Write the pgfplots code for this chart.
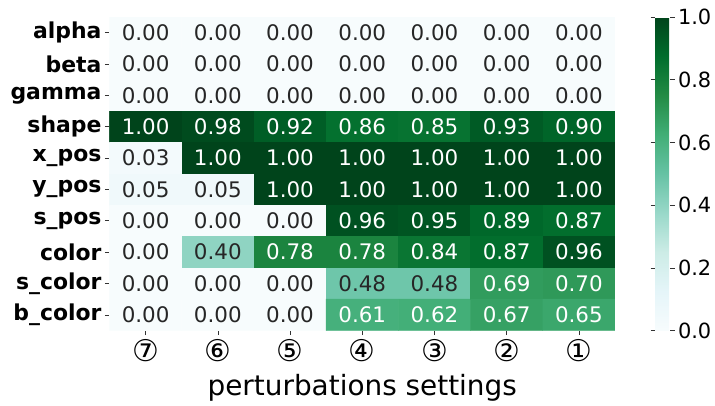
\documentclass[border=0pt]{standalone}
\usepackage{fontspec}
\setmainfont{DejaVu Sans}
\usepackage{pgfplots}
\pgfplotsset{compat=1.18}
\definecolor{textdark}{HTML}{262626}

\pgfplotstableread{
x y v
0 0 0.00
1 0 0.00
2 0 0.00
3 0 0.00
4 0 0.00
5 0 0.00
6 0 0.00
0 1 0.00
1 1 0.00
2 1 0.00
3 1 0.00
4 1 0.00
5 1 0.00
6 1 0.00
0 2 0.00
1 2 0.00
2 2 0.00
3 2 0.00
4 2 0.00
5 2 0.00
6 2 0.00
0 3 1.00
1 3 0.98
2 3 0.92
3 3 0.86
4 3 0.85
5 3 0.93
6 3 0.90
0 4 0.03
1 4 1.00
2 4 1.00
3 4 1.00
4 4 1.00
5 4 1.00
6 4 1.00
0 5 0.05
1 5 0.05
2 5 1.00
3 5 1.00
4 5 1.00
5 5 1.00
6 5 1.00
0 6 0.00
1 6 0.00
2 6 0.00
3 6 0.96
4 6 0.95
5 6 0.89
6 6 0.87
0 7 0.00
1 7 0.40
2 7 0.78
3 7 0.78
4 7 0.84
5 7 0.87
6 7 0.96
0 8 0.00
1 8 0.00
2 8 0.00
3 8 0.48
4 8 0.48
5 8 0.69
6 8 0.70
0 9 0.00
1 9 0.00
2 9 0.00
3 9 0.61
4 9 0.62
5 9 0.67
6 9 0.65
}\heat

\begin{document}
\begin{tikzpicture}
% fixed page frame, axis box sits at (0,0)
\path[use as bounding box] (-109.5bp,-75.5bp) rectangle (605.5bp,330.5bp);
\begin{axis}[
  at={(0,0)}, anchor=south west,
  scale only axis, width=505.5bp, height=313.5bp,
  xmin=-0.5, xmax=6.5, ymin=-0.5, ymax=9.5, y dir=reverse,
  enlargelimits=false,
  axis x line*=bottom, axis y line*=left,
  axis line style={draw=none},
  tick align=outside, major tick length=4.5bp,
  tick style={draw=black!80, line width=0.6pt},
  xtick={0,...,6}, ytick={0,...,9},
  xticklabels={⑦,⑥,⑤,④,③,②,①},
  yticklabels={alpha,beta,gamma,shape,x\_pos,y\_pos,s\_pos,color,s\_color,b\_color},
  xticklabel style={font=\fontsize{30}{34}\selectfont, anchor=center, yshift=-16bp},
  yticklabel style={font=\fontsize{22}{26}\selectfont\bfseries},
  xlabel={perturbations settings},
  xlabel style={font=\fontsize{28}{32}\selectfont, at={(axis description cs:0.5,0)}, anchor=base, yshift=-64.5bp},
  colormap={BuGn}{rgb255=(247,252,253) rgb255=(229,245,249) rgb255=(204,236,230) rgb255=(153,216,201) rgb255=(102,194,164) rgb255=(65,174,118) rgb255=(35,139,69) rgb255=(0,109,44) rgb255=(0,68,27)},
  point meta min=0, point meta max=1,
  colorbar,
  colorbar style={
    at={(parent axis.north east)}, anchor=north west, xshift=31.5bp,
    width=15bp, height=313.5bp,
    ytick={0,0.2,...,1},
    axis line style={draw=none},
    tick align=outside, major tick length=4.5bp,
    tick style={draw=black!80, line width=0.6pt},
    yticklabel style={font=\fontsize{21}{25}\selectfont, /pgf/number format/assume math mode=true,
      /pgf/number format/fixed, /pgf/number format/fixed zerofill, /pgf/number format/precision=1},
  },
]
\addplot[matrix plot*, mesh/cols=7, point meta=explicit] table[x=x, y=y, meta=v] {\heat};
\addplot[only marks, mark=none, point meta=explicit,
  nodes near coords={\ifdim\pgfplotspointmetatransformed pt>550pt\color{white}\else\color{textdark}\fi\pgfmathprintnumber[assume math mode=true,fixed,fixed zerofill,precision=2]{\pgfplotspointmeta}},
  nodes near coords align=center,
  every node near coord/.append style={font=\fontsize{21.5}{25}\selectfont, anchor=center, inner sep=0pt}]
  table[x=x, y=y, meta=v] {\heat};
\end{axis}
\end{tikzpicture}
\end{document}
